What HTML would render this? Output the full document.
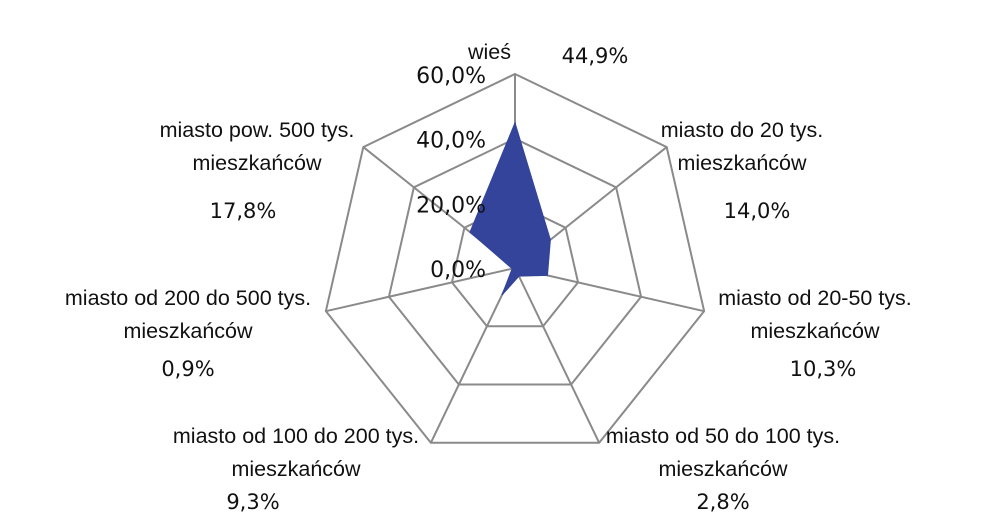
<!DOCTYPE html>
<html><head><meta charset="utf-8"><style>
body{margin:0;background:#fff;}
svg{display:block;}
.cat{font-family:"Liberation Sans Narrow","Liberation Sans",sans-serif;font-size:21.5px;fill:#111;}
.pct{font-family:"DejaVu Sans","Liberation Sans",sans-serif;font-size:21px;fill:#111;}
.tick{font-family:"DejaVu Sans","Liberation Sans",sans-serif;font-size:22px;fill:#111;}
</style></head><body>
<svg id="chart" width="1000" height="532"></svg>
<script>
const categories=["wieś","miasto do 20 tys.|mieszkańców","miasto od 20-50 tys.|mieszkańców","miasto od 50 do 100 tys.|mieszkańców","miasto od 100 do 200 tys.|mieszkańców","miasto od 200 do 500 tys.|mieszkańców","miasto pow. 500 tys.|mieszkańców"];
const values=[44.9,14.0,10.3,2.8,9.3,0.9,17.8];
const valueLabels=["44,9%","14,0%","10,3%","2,8%","9,3%","0,9%","17,8%"];
const ticks=[0,20,40,60];
const tickLabels=["0,0%","20,0%","40,0%","60,0%"];
const cx=515,cy=268,R=194,maxV=60;
const ns="http://www.w3.org/2000/svg";
const svg=document.getElementById('chart');
function ang(i){return -Math.PI/2+i*2*Math.PI/categories.length;}
function pt(i,v){const r=v/maxV*R;return [cx+r*Math.cos(ang(i)),cy+r*Math.sin(ang(i))];}
function mk(t,a){const e=document.createElementNS(ns,t);for(const k in a)e.setAttribute(k,a[k]);svg.appendChild(e);return e;}
ticks.slice(1).forEach((t,j)=>{
  const p=mk('polygon',{points:categories.map((c,i)=>pt(i,t).join(',')).join(' '),fill:'none',stroke:'#8a8a8a','stroke-width':2});
  
  
});
categories.forEach((c,i)=>{
  const [x,y]=pt(i,maxV);
  const l=mk('line',{x1:cx,y1:cy,x2:x,y2:y,stroke:'#8a8a8a','stroke-width':2});
  
  
});
const area=mk('polygon',{points:values.map((v,i)=>pt(i,v).join(',')).join(' '),fill:'#33449a',stroke:'#33449a','stroke-width':1});


ticks.forEach((t,j)=>{
  const y=cy-t/maxV*R;
  const e=mk('text',{x:cx-29,y:y+9,'text-anchor':'end',class:'tick'});
  e.textContent=tickLabels[j];
  
  
});
const catPos=[[511,59,'end'],[742,137,'middle'],[815,305,'middle'],[723,443,'middle'],[296,443,'middle'],[188,305,'middle'],[257,137,'middle']];
const pctPos=[[595,63,'middle'],[757,218,'middle'],[823,376,'middle'],[723,509,'middle'],[253,509,'middle'],[188,376,'middle'],[243,218,'middle']];
categories.forEach((c,i)=>{
  const lines=c.split('|');
  lines.forEach((ln,k)=>{
    const e=mk('text',{x:catPos[i][0],y:catPos[i][1]+k*33,'text-anchor':catPos[i][2],class:'cat'});
    e.textContent=ln;
    
    
  });
  const p=mk('text',{x:pctPos[i][0],y:pctPos[i][1],'text-anchor':pctPos[i][2],class:'pct'});
  p.textContent=valueLabels[i];
  
  
});
</script>
</body></html>
